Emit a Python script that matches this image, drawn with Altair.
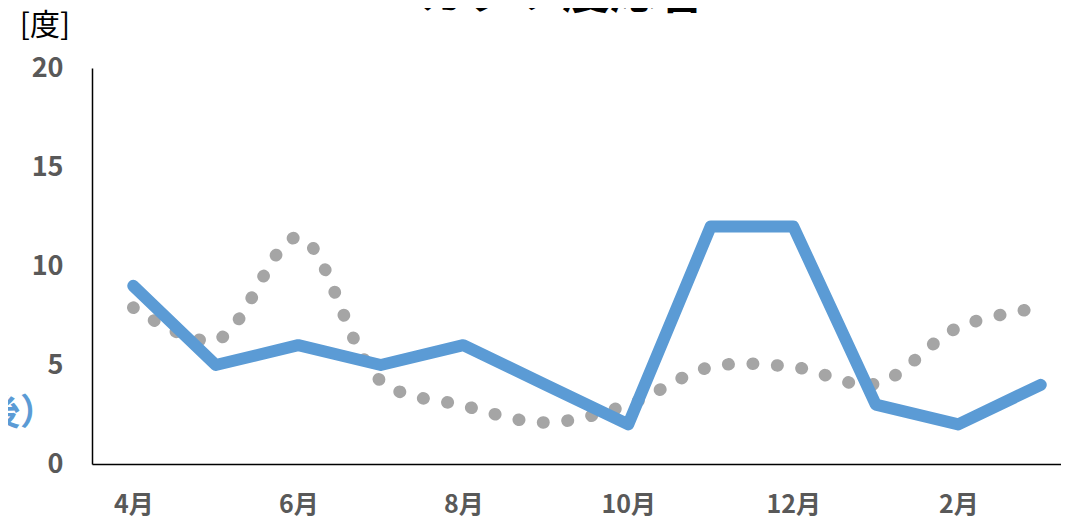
import altair as alt
import pandas as pd

months = ["4月", "5月", "6月", "7月", "8月", "9月", "10月", "11月", "12月", "1月", "2月", "3月"]
blue_values = [9, 5, 6, 5, 6, 4, 2, 12, 12, 3, 2, 4]
gray_values = [7.9, 6.25, 11.45, 4.2, 2.95, 2.1, 3.0, 4.9, 4.9, 4.05, 6.9, 7.9]
x_tick_labels = ["4月", "6月", "8月", "10月", "12月", "2月"]
y_ticks = [0, 5, 10, 15, 20]
unit_label = ["[度]"]
title_text = ["カクソ度応答"]
legend_text = ["（改善後）"]

FONT = "Noto Sans CJK JP"

df = pd.DataFrame({"month": months, "blue": blue_values, "gray": gray_values})

x_enc = alt.X(
    "month:O",
    sort=months,
    scale=alt.Scale(type="point", padding=0.5, range=[0, 990]),
    axis=alt.Axis(
        values=x_tick_labels, title=None, labelAngle=0, ticks=False, grid=False,
        domainColor="#000000", domainWidth=1.5,
        labelFont=FONT, labelFontSize=25, labelFontWeight="bold",
        labelColor="#595959", labelPadding=28,
    ),
)

def y_enc(field):
    return alt.Y(
        f"{field}:Q",
        scale=alt.Scale(domain=[0, 20]),
        axis=alt.Axis(
            values=y_ticks, title=None, ticks=False, grid=False,
            domainColor="#000000", domainWidth=1.5,
            labelFont=FONT, labelFontSize=27, labelFontWeight="bold",
            labelColor="#595959", labelPadding=29,
        ),
    )

base = alt.Chart(df)

gray_line = base.mark_line(
    color="#A5A5A5", strokeWidth=12.5, strokeCap="round",
    strokeDash=[0.5, 24], interpolate="catmull-rom",
).encode(x=x_enc, y=y_enc("gray"))

blue_line = base.mark_line(
    color="#5B9BD5", strokeWidth=12, strokeCap="round", strokeJoin="round",
).encode(x=x_enc, y=y_enc("blue"))

unit = alt.Chart(pd.DataFrame({"t": unit_label})).mark_text(
    font=FONT, fontSize=30, color="#000000", align="center", baseline="middle",
).encode(x=alt.value(-47), y=alt.value(-42), text="t:N")

title = alt.Chart(pd.DataFrame({"t": title_text})).mark_text(
    font=FONT, fontSize=48, fontWeight="bold", color="#000000", align="center",
    baseline="alphabetic",
).encode(x=alt.value(470), y=alt.value(-60), text="t:N")

legend = alt.Chart(pd.DataFrame({"t": legend_text})).mark_text(
    font=FONT, fontSize=36, fontWeight="bold", color="#5B9BD5", align="right",
    baseline="middle",
).encode(x=alt.value(-36), y=alt.value(346), text="t:N")

chart = alt.layer(gray_line, blue_line, unit, title, legend).properties(
    width=969, height=396,
    autosize=alt.AutoSizeParams(type="none"),
    padding={"left": 84, "top": 60, "right": 0, "bottom": 53},
).configure_view(stroke=None)

chart.save("out.html", embed_options={"renderer": "svg", "actions": False})
